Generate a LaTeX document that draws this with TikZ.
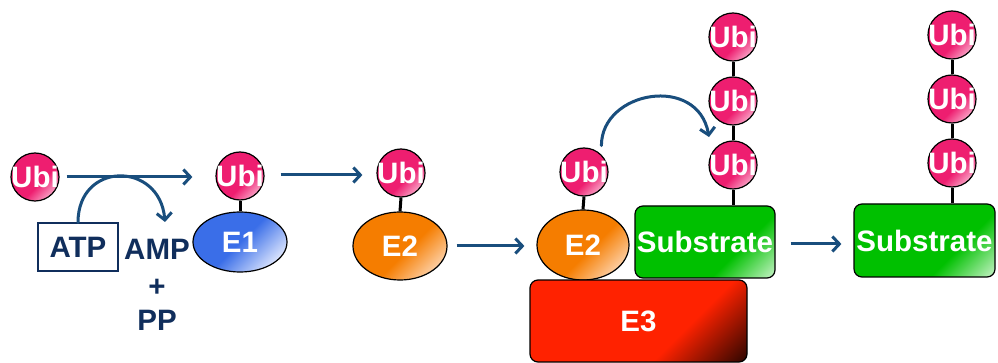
\documentclass[tikz,border=0pt]{standalone}
\usepackage{fontspec}
\setmainfont{Liberation Sans}
\usetikzlibrary{arrows.meta,shapes.geometric}
\definecolor{ubic}{RGB}{238,30,112}
\definecolor{ubil}{RGB}{252,200,222}
\definecolor{e1c}{RGB}{58,110,232}
\definecolor{e1l}{RGB}{235,240,255}
\definecolor{e2c}{RGB}{245,125,0}
\definecolor{e2l}{RGB}{255,225,200}
\definecolor{subc}{RGB}{0,192,0}
\definecolor{subl}{RGB}{225,250,225}
\definecolor{e3c}{RGB}{255,34,0}
\definecolor{e3d}{RGB}{0,0,0}
\definecolor{arrc}{RGB}{25,78,125}
\definecolor{txtc}{RGB}{16,46,92}
\pgfdeclarehorizontalshading{ubish}{100bp}{color(0bp)=(ubic); color(58bp)=(ubic); color(80bp)=(ubil); color(100bp)=(ubil)}
\pgfdeclarehorizontalshading{eoneSh}{100bp}{color(0bp)=(e1c); color(50bp)=(e1c); color(78bp)=(e1l); color(100bp)=(e1l)}
\pgfdeclarehorizontalshading{etwoSh}{100bp}{color(0bp)=(e2c); color(55bp)=(e2c); color(80bp)=(e2l); color(100bp)=(e2l)}
\pgfdeclarehorizontalshading{subSh}{100bp}{color(0bp)=(subc); color(64bp)=(subc); color(88bp)=(subl); color(100bp)=(subl)}
\pgfdeclarehorizontalshading{ethreeSh}{100bp}{color(0bp)=(e3c); color(63bp)=(e3c); color(90bp)=(e3d); color(100bp)=(e3d)}
\tikzset{
  big/.style={font=\bfseries\fontsize{29.5}{29.5}\selectfont},
  ubi/.style={circle, draw=black, line width=1.2pt, minimum size=48pt, inner sep=0pt,
     shade, shading=ubish, shading angle=-45, text=white, big},
  enz/.style={ellipse, draw=black, line width=1.2pt, inner sep=0pt, text=white, big, shade, shading angle=-45},
  boxs/.style={rectangle, rounded corners=8pt, draw=black, line width=1.2pt, inner sep=0pt, text=white, big, shade, shading angle=-45},
  link/.style={line width=3pt, black},
  arr/.style={line width=3pt, arrc, -{Straight Barb[length=7pt,width=15pt]}},
  dark/.style={text=txtc, big}
}
\begin{document}
\begin{tikzpicture}[x=1pt,y=1pt]
\useasboundingbox[fill=white] (0,0) rectangle (998,-363);
% left part
\node[ubi] (u0) at (35,-177) {\makebox[0pt]{Ubi}};
\node[draw=txtc, line width=1.3pt, minimum width=80pt, minimum height=48pt, inner sep=0pt, dark] (atp) at (78,-247) {ATP};
\node[dark, inner sep=0pt] (amp) at (157,-249) {AMP};
\node[dark, inner sep=0pt] (plus) at (157,-288) {+};
\node[dark, inner sep=0pt] (pp) at (157,-320) {PP};
\coordinate (amptip) at (165,-222);
% E1
\node[enz, shading=eoneSh, minimum width=94pt, minimum height=60pt] (e1) at (240,-242) {E1};
\node[ubi] (u1) at (240,-176) {\makebox[0pt]{Ubi}};
\draw[link] (u1.south) -- (e1.north);
% E2 a
\node[enz, shading=etwoSh, minimum width=94pt, minimum height=68pt] (e2a) at (400,-246) {E2};
\node[ubi] (u2) at (401,-173) {\makebox[0pt]{Ubi}};
\draw[link] (u2.south) -- (e2a.north);
% E2 b + E3 + substrate
\node[enz, shading=etwoSh, minimum width=92pt, minimum height=70pt] (e2b) at (583,-245) {E2};
\node[ubi] (u3) at (584,-172) {\makebox[0pt]{Ubi}};
\draw[link] (u3.south) -- (e2b.north);
\node[boxs, shading=subSh, minimum width=140pt, minimum height=72pt] (s1) at (705,-242) {Substrate};
\node[ubi] (c1) at (733,-37) {\makebox[0pt]{Ubi}};
\node[ubi] (c2) at (733,-101) {\makebox[0pt]{Ubi}};
\node[ubi] (c3) at (733,-165) {\makebox[0pt]{Ubi}};
\draw[link] (c1.south) -- (c2.north);
\draw[link] (c2.south) -- (c3.north);
\draw[link] (c3.south) -- (c3.south |- s1.north);
\node[boxs, shading=ethreeSh, minimum width=217pt, minimum height=82pt] (e3) at (638.5,-321) {E3};
\coordinate (chaintip) at (709,-137);
% right substrate
\node[boxs, shading=subSh, minimum width=141pt, minimum height=73pt] (s2) at (924.5,-240.5) {Substrate};
\node[ubi] (d1) at (952,-35) {\makebox[0pt]{Ubi}};
\node[ubi] (d2) at (952,-99) {\makebox[0pt]{Ubi}};
\node[ubi] (d3) at (952,-163) {\makebox[0pt]{Ubi}};
\draw[link] (d1.south) -- (d2.north);
\draw[link] (d2.south) -- (d3.north);
\draw[link] (d3.south) -- (d3.south |- s2.north);
% arrows
\draw[arr, shorten <=7pt, shorten >=23pt] (u0.east) -- (u0.east -| u1.west);
\draw[arr, line cap=round] (atp.north) to[out=90, in=95, looseness=1.8] (amptip);
\draw[arr, shorten <=16pt, shorten >=14pt] (u1.east |- 0,-175) -- (u2.west |- 0,-175);
\draw[arr, shorten <=9pt, shorten >=12pt] (e2a.east) -- (e2a.east -| e2b.west);
\draw[arr, line cap=round, shorten <=9pt] (u3.north east) to[out=90, in=100, looseness=1.5] (chaintip);
\draw[arr, shorten <=15pt, shorten >=12pt] (s1.east |- 0,-244) -- (s2.west |- 0,-244);
\end{tikzpicture}
\end{document}
